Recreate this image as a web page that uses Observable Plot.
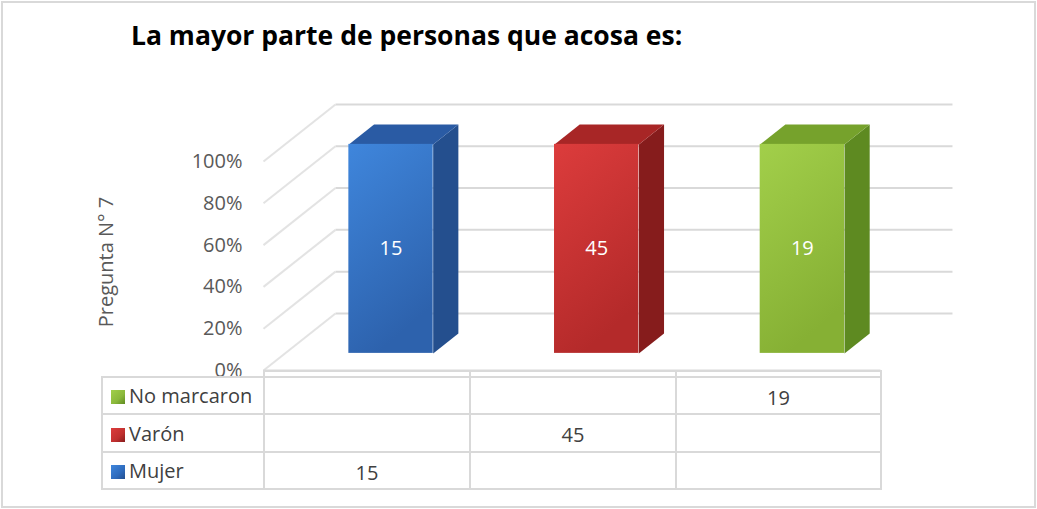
<!DOCTYPE html>
<html>
<head>
<meta charset="utf-8">
<script src="https://cdn.jsdelivr.net/npm/d3@7"></script>
<script src="https://cdn.jsdelivr.net/npm/@observablehq/plot@0.6"></script>
<style>
  html, body { margin: 0; padding: 0; background: #fff; }
  #wrap { position: relative; width: 1037px; height: 509px; overflow: hidden; font-family: "Open Sans", sans-serif; }
  #frame { position: absolute; left: 1px; top: 1px; width: 1031px; height: 503px; border: 2px solid #d9d9d9; }
  #title { position: absolute; left: 131px; top: 22px; font-family: "Open Sans", sans-serif; font-weight: bold; font-size: 26.5px; line-height: 26px; color: #000; white-space: nowrap; }
  #chart { position: absolute; left: 0; top: 0; }
  #tbl { position: absolute; left: 101px; top: 370px; border-collapse: collapse; table-layout: fixed; font-family: "Open Sans", sans-serif; font-size: 20px; color: #404040; }
  #tbl td { border: 2px solid #d9d9d9; padding: 0; white-space: nowrap; }
  #tbl td.val { text-align: center; vertical-align: middle; padding-top: 3px; }
  #tbl td.hd { padding-left: 8px; vertical-align: middle; }
  #tbl tr.axis td { height: 4px; border-bottom: 2px solid #d9d9d9; }
  #tbl tr.axis td.blank { border-top: none; border-left: none; border-right: 2px solid #d9d9d9; }
  .key { display: inline-block; width: 14px; height: 14px; margin-right: 4px; vertical-align: -1px; }
</style>
</head>
<body>
<div id="wrap">
  <div id="frame"></div>
  <div id="title"></div>
  <div id="chart"></div>
  <table id="tbl"></table>
</div>
<script>
// ---------- data ----------
const titulo = "La mayor parte de personas que acosa es:";
const ejeY = "Pregunta N° 7";
const categorias = ["", "", ""];
const series = ["Mujer", "Varón", "No marcaron"];
const valores = [15, 45, 19];
const categoriaDeSerie = [0, 1, 2];
const ticksY = [0, 0.2, 0.4, 0.6, 0.8, 1];

// ---------- styles ----------
const colores = {
  "Mujer":       {front: ["#3f86dc", "#2d62ad"], side: "#244f8e", top: "#2a5ba4", key: "#2e6bbd"},
  "Varón":       {front: ["#dc3c3c", "#b42a2a"], side: "#861c1c", top: "#a82626", key: "#c0302f"},
  "No marcaron": {front: ["#a2cf4a", "#86b034"], side: "#5e8a21", top: "#76a22c", key: "#8ab83b"}
};
const DX = 0.35, DY = 0.273;      // wall depth in data units
const F0 = 0.30, F1 = 0.65;       // bar front/back depth fraction
const BAR_L = 0.31, BAR_W = 0.41; // bar position in category band

// ---------- derived tables ----------
const totals = categorias.map((c, i) => d3.sum(valores.filter((v, k) => categoriaDeSerie[k] === i)));
const bars = series.map((s, k) => {
  const i = categoriaDeSerie[k];
  return {serie: s, i, value: valores[k], share: valores[k] / totals[i], key: "g" + k};
});
const faces = [];
for (const b of bars) {
  const xl = b.i + BAR_L, xr = xl + BAR_W, s = b.share;
  const P = (x, y, f) => ({x: x + f * DX, y: y + f * DY});
  const side = [P(xr, 0, F0), P(xr, s, F0), P(xr, s, F1), P(xr, 0, F1)];
  const top = [P(xl, s, F0), P(xr, s, F0), P(xr, s, F1), P(xl, s, F1)];
  const shadow = [P(xl - 0.03, 0, F0 - 0.04), P(xr + 0.05, 0, F0 - 0.04), P(xr + 0.12, 0, F1 + 0.08), P(xl + 0.02, 0, F1 + 0.08)];
  shadow.forEach(p => faces.push({...p, id: b.key + "sh", fill: "#cfcfcf", layer: 0}));
  side.forEach(p => faces.push({...p, id: b.key + "side", fill: colores[b.serie].side, layer: 1}));
  top.forEach(p => faces.push({...p, id: b.key + "top", fill: colores[b.serie].top, layer: 1}));
}
const backLines = ticksY.map(v => ({x1: DX, y1: v + DY, x2: categorias.length + DX, y2: v + DY}));
const sideLines = ticksY.map(v => ({x1: 0, y1: v, x2: DX, y2: v + DY}));

// ---------- chart ----------
const defs = () => {
  const d = d3.create("svg:defs");
  bars.forEach(b => {
    const c = colores[b.serie];
    const g = d.append("linearGradient").attr("id", b.key).attr("x1", 0).attr("y1", 0).attr("x2", 0.35).attr("y2", 1);
    g.append("stop").attr("offset", "0%").attr("stop-color", c.front[0]);
    g.append("stop").attr("offset", "100%").attr("stop-color", c.front[1]);
  });
  const bl = d.append("filter").attr("id", "blur").attr("x", "-20%").attr("y", "-40%").attr("width", "140%").attr("height", "180%");
  bl.append("feGaussianBlur").attr("stdDeviation", 3);
  return d.node();
};

const plot = Plot.plot({
  width: 1037,
  height: 380,
  marginLeft: 263,
  marginRight: 157,
  marginTop: 161,
  marginBottom: 10,
  style: {background: "transparent", overflow: "visible", fontFamily: "Open Sans, sans-serif", fontSize: "20px", color: "#595959"},
  x: {domain: [0, categorias.length], axis: null},
  y: {domain: [0, 1], ticks: ticksY, tickFormat: d3.format(".0%"), tickSize: 0, tickPadding: 21, label: null},
  color: {type: "identity"},
  marks: [
    defs,
    Plot.link(backLines, {x1: "x1", y1: "y1", x2: "x2", y2: "y2", stroke: "#d9d9d9", strokeWidth: 2}),
    Plot.link(sideLines, {x1: "x1", y1: "y1", x2: "x2", y2: "y2", stroke: "#e3e3e3", strokeWidth: 2}),
    Plot.link([{x1: 0, x2: categorias.length}], {x1: "x1", x2: "x2", y1: 0, y2: 0, stroke: "#d9d9d9", strokeWidth: 2}),
    Plot.line(faces.filter(d => d.layer === 0), {x: "x", y: "y", z: "id", fill: "fill", stroke: "none", curve: "linear-closed", fillOpacity: 0.55, ariaLabel: "shadow"}),
    Plot.line(faces.filter(d => d.layer === 1), {x: "x", y: "y", z: "id", fill: "fill", stroke: "none", curve: "linear-closed"}),
    Plot.rect(bars, {
      x1: d => d.i + BAR_L + F0 * DX,
      x2: d => d.i + BAR_L + BAR_W + F0 * DX,
      y1: d => F0 * DY,
      y2: d => d.share + F0 * DY,
      fill: d => `url(#${d.key})`
    }),
    Plot.text(bars, {
      x: d => d.i + BAR_L + BAR_W / 2 + F0 * DX,
      y: d => d.share / 2 + F0 * DY,
      text: d => String(d.value),
      fill: "white",
      fontSize: 20
    }),
    Plot.text([ejeY], {frameAnchor: "left", dx: -157, dy: -4, rotate: -90, textAnchor: "middle", fontSize: 20, fill: "#595959"})
  ]
});
d3.select(plot).selectAll('g[aria-label="shadow"]').attr("filter", "url(#blur)");
document.getElementById("chart").appendChild(plot);
document.getElementById("title").textContent = titulo;

// ---------- data table ----------
const tbl = d3.select("#tbl");
const widths = [162, 206, 206, 205];
const cg = tbl.append("colgroup");
widths.forEach(w => cg.append("col").style("width", w + "px"));
const axisRow = tbl.append("tr").attr("class", "axis");
axisRow.append("td").attr("class", "blank");
categorias.forEach(c => axisRow.append("td").text(c));
const rowHeights = {"No marcaron": 37, "Varón": 38, "Mujer": 37};
series.slice().reverse().forEach(s => {
  const k = series.indexOf(s);
  const tr = tbl.append("tr").style("height", rowHeights[s] + "px");
  const hd = tr.append("td").attr("class", "hd");
  hd.append("span").attr("class", "key")
    .style("background", `linear-gradient(135deg, ${colores[s].front[0]}, ${colores[s].key} 60%, ${colores[s].side})`);
  hd.append("span").text(s);
  categorias.forEach((c, i) => {
    tr.append("td").attr("class", "val").text(categoriaDeSerie[k] === i ? String(valores[k]) : "");
  });
});
</script>
</body>
</html>
